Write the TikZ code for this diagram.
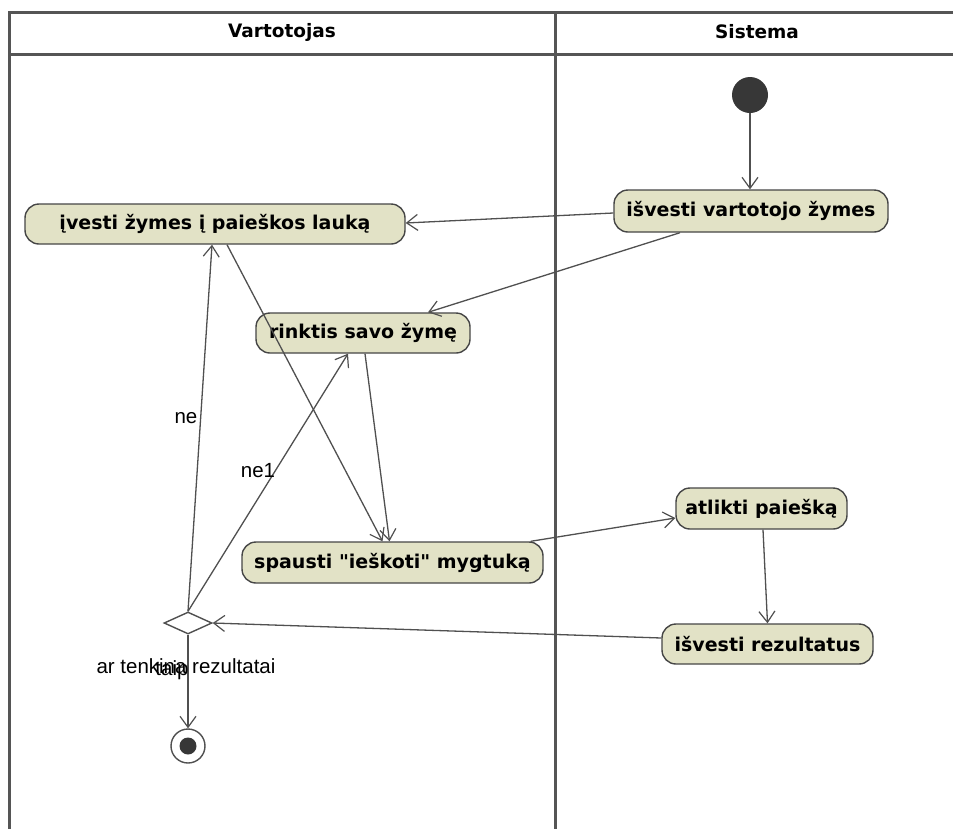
\documentclass[tikz,border=0pt]{standalone}
\usepackage{fontspec}
\setmainfont{Liberation Sans}
\newfontfamily\actfont{DejaVu Sans}
\usetikzlibrary{arrows.meta,shapes.geometric,calc}

\definecolor{lanegray}{RGB}{85,85,85}
\definecolor{edgegray}{RGB}{80,80,80}
\definecolor{actfill}{RGB}{226,226,198}
\definecolor{actborder}{RGB}{70,70,70}
\definecolor{dotfill}{RGB}{55,55,55}

\tikzset{
  lane/.style={draw=lanegray, line width=3pt},
  lanehead/.style={font=\actfont\bfseries\fontsize{18.5}{22}\selectfont, text=black},
  action/.style={draw=actborder, fill=actfill, line width=1.4pt,
    rounded corners=14pt, inner sep=0pt,
    font=\actfont\bfseries\fontsize{19}{22}\selectfont, text=black},
  flow/.style={draw=edgegray, line width=1.3pt,
    -{Straight Barb[length=11pt,width=16pt,line width=1.2pt]}},
  guard/.style={font=\fontsize{20.5}{24}\selectfont, text=black, inner sep=0pt},
  startdot/.style={circle, fill=dotfill, minimum size=36pt, inner sep=0pt},
  enddot/.style={circle, draw=edgegray, line width=1.4pt, fill=white,
    minimum size=34pt, inner sep=0pt,
    path picture={\fill[dotfill] (path picture bounding box.center) circle (8.5pt);}},
  choice/.style={diamond, draw=edgegray, line width=1.4pt, fill=white,
    minimum width=48pt, minimum height=22pt, inner sep=0pt, aspect=2.2}
}

\begin{document}
\begin{tikzpicture}[x=1pt, y=-1pt]
  \useasboundingbox (0,0) rectangle (953,828);
  \fill[white] (0,0) rectangle (953,828);

  % swimlanes
  \draw[lane] (9,835) -- (9,12) -- (960,12);
  \draw[lane] (9,54) -- (960,54);
  \draw[lane] (555,12) -- (555,835);
  \node[lanehead] (laneA) at (282,32) {Vartotojas};
  \node[lanehead] (laneB) at (757,32) {Sistema};

  % activity nodes
  \node[startdot] (init) at (750,95) {};
  \node[action, minimum width=274pt, minimum height=42pt] (vart) at (751,211) {išvesti vartotojo žymes};
  \node[action, minimum width=380pt, minimum height=40pt] (ivesti) at (215,224) {įvesti žymes į paieškos lauką};
  \node[action, minimum width=214pt, minimum height=40pt] (rinktis) at (363,333) {rinktis savo žymę};
  \node[action, minimum width=301pt, minimum height=41pt] (spausti) at (392.5,562.5) {spausti "ieškoti" mygtuką};
  \node[action, minimum width=171pt, minimum height=41pt] (atlikti) at (761.5,508.5) {atlikti paiešką};
  \node[action, minimum width=211pt, minimum height=40pt] (rez) at (767.5,644) {išvesti rezultatus};
  \node[choice] (dec) at (188,623) {};
  \node[enddot] (final) at (188,746) {};

  % control flows
  \draw[flow] (init) -- (init |- vart.north);
  \draw[flow] ([yshift=-2pt]vart.west) -- ([yshift=1pt]ivesti.east);
  \draw[flow] ([xshift=-71pt]vart.south) -- ([xshift=65pt]rinktis.north);
  \draw[flow] ([xshift=12pt]ivesti.south) -- ([xshift=-10pt]spausti.north);
  \draw[flow] ([xshift=2pt]rinktis.south) -- ([xshift=-3pt]spausti.north);
  \draw[flow] (dec.north) -- ([xshift=-3pt]ivesti.south);
  \draw[flow] (dec.north) -- ([xshift=-15pt]rinktis.south);
  \draw[flow] ([xshift=-13pt]spausti.north east) -- ([yshift=-9.5pt]atlikti.west);
  \draw[flow] ([xshift=1.5pt]atlikti.south) -- (rez.north);
  \draw[flow] ([yshift=6pt]rez.west) -- (dec.east);
  \draw[flow] (dec.south) -- (final.north);

  % guard labels
  \node[guard] (gne) at (186,418) {ne};
  \node[guard] (gne1) at (258,471) {ne1};
  \node[guard] (gq) at (186,666) {ar tenkina rezultatai};
  \node[guard] (gtaip) at (172,670) {taip};
\end{tikzpicture}
\end{document}
